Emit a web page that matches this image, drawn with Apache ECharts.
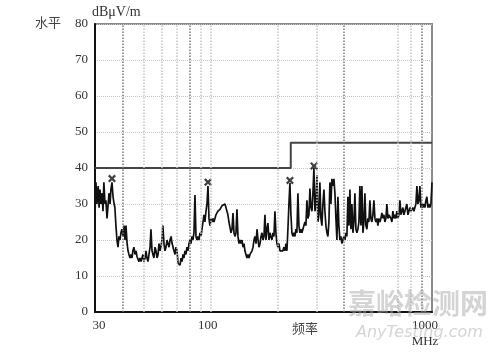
<!DOCTYPE html>
<html>
<head>
<meta charset="utf-8">
<script src="https://cdn.jsdelivr.net/npm/echarts@6/dist/echarts.min.js"></script>
<style>
  html, body { margin: 0; padding: 0; background: #fff; }
  #main { width: 500px; height: 353px; }
</style>
</head>
<body>
<div id="main"></div>
<script>
        // 频率 (MHz)
        var freqs = [
            30.0, 30.3, 30.6, 31.0, 31.3, 31.6, 31.9, 32.3, 32.6, 32.9, 33.3, 33.6, 34.0, 34.3, 34.7, 35.1, 35.4, 35.8, 36.2, 36.6,
            36.9, 37.3, 37.7, 38.1, 38.5, 38.9, 39.3, 39.7, 40.2, 40.6, 41.0, 41.4, 41.9, 42.3, 42.7, 43.2, 43.6, 44.1, 44.5, 45.0,
            45.5, 46.0, 46.4, 46.9, 47.4, 47.9, 48.4, 48.9, 49.4, 49.9, 50.5, 51.0, 51.5, 52.1, 52.6, 53.2, 53.7, 54.3, 54.8, 55.4,
            56.0, 56.6, 57.2, 57.8, 58.4, 59.0, 59.6, 60.2, 60.8, 61.5, 62.1, 62.8, 63.5, 64.1, 64.8, 65.5, 66.2, 66.9, 67.6, 68.2,
            69.0, 69.7, 70.4, 71.2, 71.9, 72.7, 73.4, 74.2, 75.0, 75.7, 76.5, 77.3, 78.1, 78.9, 79.8, 80.6, 81.4, 82.3, 83.1, 84.0,
            84.9, 85.8, 86.7, 87.6, 88.5, 89.4, 90.4, 91.3, 92.3, 93.2, 94.2, 95.2, 96.2, 97.2, 98.2, 99.2, 100.3, 101.3, 102.4, 103.4,
            104.5, 105.6, 106.7, 107.8, 108.9, 110.1, 111.2, 112.4, 113.5, 114.7, 116.0, 117.2, 118.4, 119.6, 120.9, 122.2, 123.5, 124.8, 126.1, 127.4,
            128.7, 130.1, 131.4, 132.8, 134.2, 135.6, 137.0, 138.5, 139.9, 141.4, 142.8, 144.3, 145.8, 147.4, 148.9, 150.5, 152.1, 153.7, 155.3, 156.9,
            158.5, 160.2, 161.9, 163.6, 165.3, 167.0, 168.8, 170.5, 172.3, 174.1, 175.8, 177.7, 179.5, 181.4, 183.3, 185.2, 187.1, 189.1, 191.1, 193.1,
            195.1, 197.1, 199.2, 201.3, 203.4, 205.5, 207.7, 209.8, 212.0, 214.2, 216.5, 218.8, 221.0, 223.3, 225.7, 228.0, 230.4, 232.8, 235.2, 237.7,
            240.2, 242.7, 245.2, 247.8, 250.4, 253.0, 255.6, 258.3, 261.0, 263.8, 266.6, 269.3, 272.2, 275.0, 277.9, 280.8, 283.7, 286.7, 289.7, 292.7,
            295.8, 298.9, 302.0, 305.1, 308.3, 311.5, 314.8, 318.1, 321.4, 324.8, 328.2, 331.6, 335.1, 338.6, 342.1, 345.7, 349.3, 352.9, 356.6, 360.4,
            364.2, 368.0, 371.8, 375.7, 379.6, 383.6, 387.6, 391.6, 395.7, 399.9, 404.1, 408.3, 412.5, 416.9, 421.2, 425.6, 430.1, 434.6, 439.1, 443.7,
            448.4, 453.1, 457.8, 462.6, 467.4, 472.3, 477.2, 482.2, 487.3, 492.4, 497.5, 502.7, 507.9, 513.2, 518.6, 524.0, 529.5, 535.0, 540.6, 546.3,
            552.1, 557.8, 563.7, 569.6, 575.5, 581.5, 587.6, 593.8, 600.0, 606.2, 612.6, 619.0, 625.5, 632.0, 638.6, 645.3, 652.0, 658.8, 665.7, 672.7,
            679.7, 686.8, 694.0, 701.3, 708.6, 716.0, 723.5, 731.1, 738.7, 746.5, 754.3, 762.2, 770.1, 778.2, 786.3, 794.6, 802.9, 811.3, 819.8, 828.4,
            837.0, 845.8, 854.6, 863.6, 872.6, 881.7, 891.0, 900.3, 909.7, 919.2, 928.7, 938.5, 948.3, 958.2, 968.2, 978.3, 989.0, 1000
        ];
        // 场强 (dBμV/m)
        var levels = [
            27, 36, 30, 35, 29, 34, 30, 33, 28, 36, 30, 31, 26, 29, 33, 30, 34, 36, 32, 30,
            29, 24, 20, 18, 21, 20, 22, 23, 21, 24, 20, 24, 19, 17, 16, 15, 16, 15, 17, 18,
            16, 17, 15.5, 15, 14, 15, 14, 15, 16, 14, 15, 17, 15, 14, 16, 18, 23, 17, 16, 15,
            18, 17, 15, 16, 19, 17, 18, 20, 24, 19, 17, 18, 20, 19, 18, 20, 21, 19, 18, 17,
            16, 18, 17, 13.5, 14, 13, 15, 14, 16, 15, 17, 16, 18, 17, 19, 20, 19, 21, 20, 22,
            32.5, 21, 20, 21, 20, 22, 21, 23, 25, 27, 25, 28, 30, 35, 26, 24, 26, 25, 26, 25,
            26, 27, 27, 28, 28, 28.5, 29, 29.5, 30, 29.5, 30, 29, 28, 27, 25, 23.5, 22, 23, 27.5, 22,
            21, 22, 28.5, 21, 19, 20, 19, 20, 18, 19, 17, 16, 15, 16, 15, 16, 15.5, 17, 18, 20,
            21, 19, 23, 20, 18, 19, 21, 22, 20, 21, 27, 20, 23, 24.7, 20, 22, 21, 20, 22, 21,
            28, 22, 19, 18, 19, 17, 17.5, 16.5, 17, 18, 17, 19, 17, 23, 30, 35.8, 27, 22, 21, 22,
            21, 23, 22, 33, 24, 22, 23, 22, 23, 24, 25, 24, 31, 26, 27, 34.3, 29, 28, 33, 40,
            28, 30, 38, 25, 27, 36, 26, 24, 30, 34, 28, 24, 22, 21, 25, 36, 30, 37, 35, 37,
            33, 26, 20, 32, 24, 20, 21, 19, 20, 21, 20, 22, 21, 32, 24, 34, 23, 30, 22, 25,
            33, 23, 22, 23, 25, 35, 24, 35, 22, 25, 33, 24, 23, 26, 25, 31, 26, 25, 27, 31,
            26, 25, 26, 24, 26, 25, 26, 27.5, 26, 27, 25, 26, 30, 26, 27, 27, 26, 25, 28, 26,
            27, 26, 28, 26, 27, 31, 27, 28, 29, 27, 28, 29, 30, 27, 28, 29, 28, 28, 29, 28,
            29, 30, 35, 30, 31, 35, 29, 30, 29, 30, 29, 31, 32, 29, 30, 29, 30, 36
        ];
        // 限值线 9254REB
        var limitFreqs = [30, 230, 230, 1000];
        var limitLevels = [40, 40, 47, 47];
        // 峰值标记
        var peakFreqs = [35.8, 97.2, 228, 293];
        var peakLevels = [36.5, 35.5, 36, 40];
        // 坐标轴
        var xLabels = [30, 100, 1000];
        var gridFreqs = [40, 50, 60, 70, 80, 90, 100, 200, 300, 400, 700, 800, 900];
        var darkGrid = [40, 80, 400, 900];

        var myChart = echarts.init(document.getElementById('main'));

        var spectrum = freqs.map(function (f, i) { return [f, levels[i]]; });
        var limit = limitFreqs.map(function (f, i) {
            var item = { value: [f, limitLevels[i]] };
            if (i === limitFreqs.length - 1) {
                item.label = {
                    show: true,
                    formatter: '9254REB',
                    position: 'top',
                    align: 'right',
                    offset: [-4, -1],
                    color: '#333',
                    fontFamily: 'Liberation Serif',
                    fontSize: 14
                };
            }
            return item;
        });
        var peaks = peakFreqs.map(function (f, i) { return [f, peakLevels[i]]; });
        var gridLines = gridFreqs.map(function (f) {
            return {
                xAxis: f,
                lineStyle: { color: darkGrid.indexOf(f) >= 0 ? '#777' : '#c4c4c4' }
            };
        });

        var serif = 'Liberation Serif';
        var option = {
            backgroundColor: '#fff',
            animation: false,
            grid: {
                left: 95, right: 68, top: 24, bottom: 41,
                show: true,
                borderColor: '#8a8a8a',
                borderWidth: 2
            },
            xAxis: {
                type: 'log',
                logBase: 10,
                min: 30,
                max: 1000,
                axisLine: { show: true, lineStyle: { color: '#111', width: 2 } },
                axisTick: { show: false },
                splitLine: { show: false },
                minorSplitLine: { show: false },
                axisLabel: {
                    customValues: xLabels,
                    margin: 6,
                    color: '#333',
                    fontFamily: serif,
                    fontSize: 13,
                    lineHeight: 16,
                    // 标签位置微调
                    formatter: function (v) {
                        if (v === 1000) return '{c|1000}\n{c|MHz}';
                        if (v === 100) return '{b|100}';
                        return '{a|' + v + '}';
                    },
                    rich: {
                        a: { padding: [0, 0, 0, 8], fontFamily: serif, fontSize: 13, color: '#333' },
                        b: { padding: [0, 6, 0, 0], fontFamily: serif, fontSize: 13, color: '#333' },
                        c: { padding: [0, 14, 0, 0], fontFamily: serif, fontSize: 13, color: '#333', lineHeight: 16 }
                    }
                }
            },
            yAxis: {
                type: 'value',
                min: 0,
                max: 80,
                interval: 10,
                axisLine: { show: true, lineStyle: { color: '#111', width: 2 } },
                axisTick: { show: false },
                axisLabel: { margin: 7, color: '#333', fontFamily: serif, fontSize: 13 },
                splitLine: { show: true, lineStyle: { color: '#c4c4c4', type: 'dotted', width: 1 } }
            },
            graphic: [
                { type: 'text', left: 35, top: 16, style: { text: '水平', fill: '#444', font: '13px "Noto Sans CJK SC"' } },
                { type: 'text', left: 92, top: 5, style: { text: 'dBμV/m', fill: '#333', font: '14px "Liberation Serif"' } },
                { type: 'text', left: 292, top: 322, style: { text: '频率', fill: '#444', font: '13px "Noto Sans CJK SC"' } },
                { type: 'text', left: 348, top: 289, z: 100, style: { text: '嘉峪检测网', fill: 'rgba(170,170,170,0.5)', font: 'bold 28px "Noto Sans CJK SC"' } },
                { type: 'text', left: 356, top: 325, z: 100, style: { text: 'AnyTesting.com', fill: 'rgba(170,170,170,0.5)', font: 'italic 16px "DejaVu Sans"' } }
            ],
            series: [
                {
                    name: '9254REB',
                    type: 'line',
                    z: 1,
                    data: limit,
                    symbol: 'none',
                    lineStyle: { color: '#444', width: 2 },
                    markLine: {
                        silent: true,
                        symbol: 'none',
                        label: { show: false },
                        lineStyle: { type: 'dotted', width: 1.5 },
                        data: gridLines
                    }
                },
                {
                    name: '水平',
                    type: 'line',
                    z: 3,
                    data: spectrum,
                    symbol: 'none',
                    lineStyle: { color: '#111', width: 1.7 }
                },
                {
                    name: 'peak',
                    type: 'scatter',
                    z: 4,
                    data: peaks,
                    symbol: 'path://M0,2L2,0L5,3L8,0L10,2L7,5L10,8L8,10L5,7L2,10L0,8L3,5Z',
                    symbolSize: 8,
                    symbolOffset: [0, -2],
                    itemStyle: { color: '#111' }
                }
            ]
        };
        myChart.setOption(option);
</script>
</body>
</html>
